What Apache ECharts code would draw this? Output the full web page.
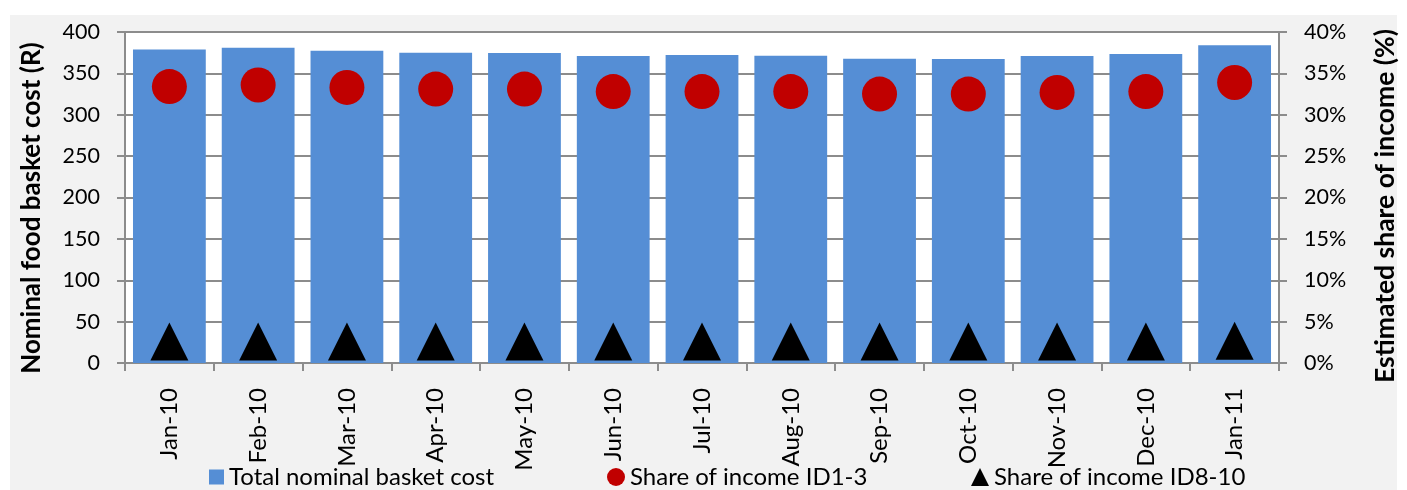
<!DOCTYPE html>
<html>
<head>
<meta charset="utf-8">
<script src="https://cdn.jsdelivr.net/npm/echarts@6/dist/echarts.min.js"></script>
<style>
  html, body { margin: 0; padding: 0; background: #ffffff; }
  #chart { width: 1407px; height: 490px; }
</style>
</head>
<body>
<div id="chart"></div>
<script>
// Months on the category axis
const months = ['Jan-10', 'Feb-10', 'Mar-10', 'Apr-10', 'May-10', 'Jun-10', 'Jul-10',
                'Aug-10', 'Sep-10', 'Oct-10', 'Nov-10', 'Dec-10', 'Jan-11'];

// Total nominal food basket cost (R), left axis
const basketCost = [379.0, 381.0, 377.4, 375.0, 374.6, 371.0, 372.2,
                    371.4, 367.8, 367.5, 371.0, 373.4, 384.0];

// Estimated share of income (%), right axis
const shareID13 = [33.4, 33.6, 33.3, 33.1, 33.1, 32.8, 32.8,
                   32.8, 32.5, 32.5, 32.7, 32.8, 33.9];
const shareID810 = [2.6, 2.6, 2.6, 2.6, 2.6, 2.6, 2.6,
                    2.6, 2.6, 2.6, 2.6, 2.6, 2.7];

// Axis tick values
const costTicks = { min: 0, max: 400, interval: 50 };
const shareTicks = { min: 0, max: 40, interval: 5 };

const FONT = 'Lato, "Open Sans", sans-serif';
const AXIS_GREY = '#8c8c8c';
const LEGEND_TEXT = { fontFamily: FONT, fontSize: 24, color: '#000' };

const chart = echarts.init(document.getElementById('chart'), null, { renderer: 'canvas' });

chart.setOption({
  animation: false,
  backgroundColor: '#ffffff',
  textStyle: { fontFamily: FONT },
  graphic: [{
    type: 'rect',
    left: 10, top: 15, z: -10,
    shape: { width: 1387, height: 475 },
    style: { fill: '#f2f2f2' }
  }, {
    // left axis title, reading bottom-up
    type: 'text',
    x: 32, y: 208, rotation: Math.PI / 2,
    style: {
      text: 'Nominal food basket cost (R)',
      fontFamily: FONT, fontSize: 26, fontWeight: 'bold', fill: '#000',
      align: 'center', verticalAlign: 'middle'
    }
  }, {
    // right axis title, reading bottom-up
    type: 'text',
    x: 1385, y: 206, rotation: Math.PI / 2,
    style: {
      text: 'Estimated share of income (%)',
      fontFamily: FONT, fontSize: 26.5, fontWeight: 'bold', fill: '#000',
      align: 'center', verticalAlign: 'middle'
    }
  }],
  grid: {
    left: 125, right: 128, top: 32, bottom: 127,
    show: true, backgroundColor: '#ffffff', borderWidth: 0
  },
  legend: [{
    left: 209, top: 465, padding: 0,
    itemWidth: 15, itemHeight: 15, itemGap: 0,
    textStyle: LEGEND_TEXT,
    data: [{ name: 'Total nominal basket cost', icon: 'rect' }]
  }, {
    left: 607, top: 465, padding: 0,
    itemWidth: 18, itemHeight: 18, itemGap: 0,
    textStyle: LEGEND_TEXT,
    data: [{ name: 'Share of income ID1-3', icon: 'circle' }]
  }, {
    left: 971, top: 465, padding: 0,
    itemWidth: 18, itemHeight: 18, itemGap: 0,
    textStyle: LEGEND_TEXT,
    data: [{ name: 'Share of income ID8-10', icon: 'triangle' }]
  }],
  xAxis: {
    type: 'category',
    data: months,
    axisLine: { lineStyle: { color: AXIS_GREY, width: 2 } },
    axisTick: { show: true, length: 8, lineStyle: { color: AXIS_GREY, width: 2 } },
    axisLabel: { rotate: 90, margin: 25, fontSize: 24, color: '#000', fontFamily: FONT }
  },
  yAxis: [{
    type: 'value',
    min: costTicks.min, max: costTicks.max, interval: costTicks.interval,
    axisLine: { show: true, lineStyle: { color: AXIS_GREY, width: 2 } },
    axisTick: { show: true, length: 8, lineStyle: { color: AXIS_GREY, width: 2 } },
    axisLabel: { margin: 25, fontSize: 21.5, color: '#000', fontFamily: FONT },
    splitLine: { show: true, lineStyle: { color: AXIS_GREY, width: 2 } }
  }, {
    type: 'value',
    position: 'right',
    min: shareTicks.min, max: shareTicks.max, interval: shareTicks.interval,
    axisLine: { show: true, lineStyle: { color: AXIS_GREY, width: 2 } },
    axisTick: { show: true, length: 8, lineStyle: { color: AXIS_GREY, width: 2 } },
    axisLabel: { margin: 25, fontSize: 21.5, color: '#000', fontFamily: FONT, formatter: '{value}%' },
    splitLine: { show: false }
  }],
  series: [{
    name: 'Total nominal basket cost',
    type: 'bar',
    data: basketCost,
    barCategoryGap: '18%',
    itemStyle: { color: '#558ed5' },
    z: 2
  }, {
    name: 'Share of income ID1-3',
    type: 'scatter',
    yAxisIndex: 1,
    data: shareID13,
    symbol: 'circle',
    symbolSize: 35,
    itemStyle: { color: '#c00000', opacity: 1 },
    z: 3
  }, {
    name: 'Share of income ID8-10',
    type: 'scatter',
    yAxisIndex: 1,
    data: shareID810,
    symbol: 'triangle',
    symbolSize: [38, 38],
    itemStyle: { color: '#000000', opacity: 1 },
    z: 3
  }]
});
</script>
</body>
</html>
